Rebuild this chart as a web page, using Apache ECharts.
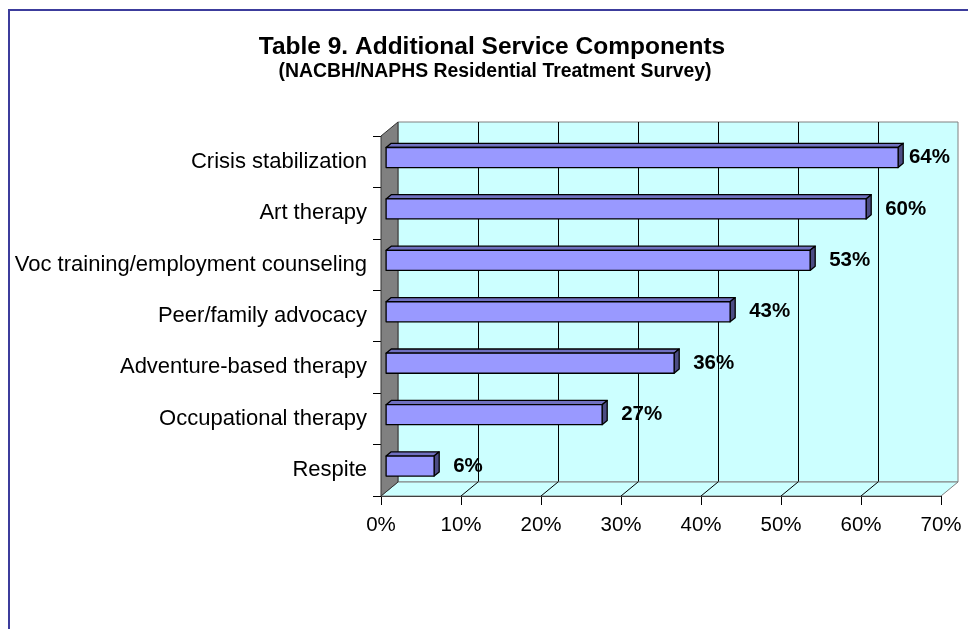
<!DOCTYPE html>
<html><head><meta charset="utf-8">
<script src="https://cdn.jsdelivr.net/npm/echarts@6/dist/echarts.min.js"></script>
<style>html,body{margin:0;padding:0;background:#fff}#c{width:968px;height:629px}</style>
</head><body><div id="c"></div>
<script>
const titleText = 'Table 9. Additional Service Components';
const subtitleText = '(NACBH/NAPHS Residential Treatment Survey)';
const categories = ['Crisis stabilization', 'Art therapy', 'Voc training/employment counseling', 'Peer/family advocacy', 'Adventure-based therapy', 'Occupational therapy', 'Respite'];
const values = [64, 60, 53, 43, 36, 27, 6];
const axisMin = 0, axisMax = 70, axisStep = 10;

const FONT = 'Arial, "Liberation Sans", sans-serif';
const LABEL_FONT = 'bold 20.5px ' + FONT;
const DX = 17, DY = 14;
const FRONT = {left: 381, top: 136, width: 560, height: 360};
const BACK = {left: FRONT.left + DX, top: FRONT.top - DY, width: 560, height: 360};

const measureCtx = document.createElement('canvas').getContext('2d');
function textWidth(t, font) { measureCtx.font = font; return measureCtx.measureText(t).width; }

function renderFrame(params, api) {
  const cs = params.coordSys;
  const x0 = cs.x, y0 = cs.y, x1 = cs.x + cs.width, y1 = cs.y + cs.height;
  const children = [];
  children.push({type: 'polygon', shape: {points: [[x0, y1], [x0 + DX, y1 - DY], [x1 + DX, y1 - DY], [x1, y1]]},
    style: {fill: '#ccffff', stroke: '#808080', lineWidth: 1}});
  for (let v = axisMin + axisStep; v < axisMax; v += axisStep) {
    const px = api.coord([v, 0])[0];
    children.push({type: 'line', shape: {x1: px, y1: y1, x2: px + DX, y2: y1 - DY}, style: {stroke: '#000', lineWidth: 1}});
  }
  children.push({type: 'polygon', shape: {points: [[x0, y0], [x0 + DX, y0 - DY], [x0 + DX, y1 - DY], [x0, y1]]},
    style: {fill: '#808080', stroke: '#333', lineWidth: 1}});
  return {type: 'group', children};
}

function renderBar(params, api) {
  const cs = params.coordSys;
  const val = api.value(0), idx = api.value(1);
  const s = api.coord([axisMin, idx]), e = api.coord([val, idx]);
  const band = api.size([0, 1])[1];
  const h = band * 0.39;
  const ox = DX * 0.3, oy = DY * 0.3, d = DX * 0.3, dd = DY * 0.3;
  const fx0 = s[0] + ox, fx1 = e[0] + ox, fy0 = s[1] - oy - h / 2, fy1 = fy0 + h;
  const st = {stroke: '#000', lineWidth: 1.3, lineJoin: 'round'};
  const txt = val + '%';
  const tw = textWidth(txt, LABEL_FONT);
  const lx = Math.min(fx1 + d + 14, cs.x + cs.width + DX - 8 - tw);
  return {type: 'group', children: [
    {type: 'polygon', shape: {points: [[fx0, fy0], [fx0 + d, fy0 - dd], [fx1 + d, fy0 - dd], [fx1, fy0]]}, style: Object.assign({fill: '#7070c0'}, st)},
    {type: 'polygon', shape: {points: [[fx1, fy0], [fx1 + d, fy0 - dd], [fx1 + d, fy1 - dd], [fx1, fy1]]}, style: Object.assign({fill: '#4c4c84'}, st)},
    {type: 'rect', shape: {x: fx0, y: fy0, width: fx1 - fx0, height: h}, style: Object.assign({fill: '#9999ff'}, st)},
    {type: 'text', x: lx, y: (fy0 + fy1) / 2, style: {text: txt, font: LABEL_FONT, fill: '#000', verticalAlign: 'middle', align: 'left'}}
  ]};
}

const chart = echarts.init(document.getElementById('c'), null, {renderer: 'canvas'});
chart.setOption({
  backgroundColor: '#fff',
  animation: false,
  title: [
    {text: titleText, left: 492, top: 35, textAlign: 'center', padding: 0,
      textStyle: {fontFamily: FONT, fontWeight: 'bold', fontSize: 24.5, color: '#000'}},
    {text: subtitleText, left: 495, top: 62, textAlign: 'center', padding: 0,
      textStyle: {fontFamily: FONT, fontWeight: 'bold', fontSize: 19.4, color: '#000'}}
  ],
  graphic: [{type: 'rect', shape: {x: 9, y: 10, width: 1000, height: 700}, style: {fill: 'none', stroke: '#3c3c9c', lineWidth: 2}, z: 100}],
  grid: [
    Object.assign({show: true, backgroundColor: '#ccffff', borderColor: '#808080', borderWidth: 1}, BACK),
    Object.assign({show: false}, FRONT)
  ],
  xAxis: [
    {gridIndex: 0, type: 'value', min: axisMin, max: axisMax, interval: axisStep,
      axisLine: {show: false}, axisTick: {show: false}, axisLabel: {show: false},
      splitLine: {show: true, showMinLine: false, showMaxLine: false, lineStyle: {color: '#000', width: 1}}},
    {gridIndex: 1, type: 'value', min: axisMin, max: axisMax, interval: axisStep,
      axisLine: {show: true, lineStyle: {color: '#000', width: 1}},
      axisTick: {show: true, length: 9, lineStyle: {color: '#000'}},
      axisLabel: {show: true, margin: 19, formatter: '{value}%', fontFamily: FONT, fontSize: 20.5, color: '#000'},
      splitLine: {show: false}}
  ],
  yAxis: [
    {gridIndex: 0, type: 'category', data: categories, inverse: true, show: false},
    {gridIndex: 1, type: 'category', data: categories, inverse: true,
      axisLine: {show: true, lineStyle: {color: '#000', width: 1}},
      axisTick: {show: true, length: 8, lineStyle: {color: '#000'}},
      axisLabel: {margin: 14, fontFamily: FONT, fontSize: 22, color: '#000'},
      splitLine: {show: false}}
  ],
  series: [
    {type: 'custom', xAxisIndex: 1, yAxisIndex: 1, renderItem: renderFrame, data: [[0, 0]], silent: true, z: 1, clip: false},
    {type: 'custom', xAxisIndex: 1, yAxisIndex: 1, renderItem: renderBar, encode: {x: 0, y: 1},
      data: values.map((v, i) => [v, i]), z: 3, clip: false}
  ]
});
</script></body></html>
